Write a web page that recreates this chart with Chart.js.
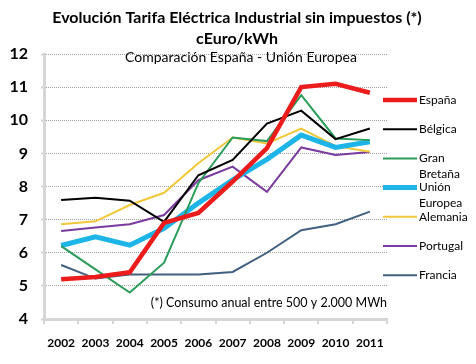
<!DOCTYPE html>
<html>
<head>
<meta charset="utf-8">
<script src="https://cdn.jsdelivr.net/npm/chart.js@4.4.0/dist/chart.umd.min.js"></script>
<style>
  body { margin: 0; background: #fff; }
  canvas { display: block; }
</style>
</head>
<body>
<canvas id="chart" width="476" height="364"></canvas>
<script>
const years = ['2002', '2003', '2004', '2005', '2006', '2007', '2008', '2009', '2010', '2011'];

const espana = [5.20, 5.27, 5.41, 6.90, 7.20, 8.15, 9.16, 11.0, 11.1, 10.83];
const belgica = [7.59, 7.66, 7.57, 6.93, 8.34, 8.80, 9.90, 10.29, 9.43, 9.75];
const granBretana = [6.20, 5.50, 4.80, 5.70, 8.10, 9.48, 9.37, 10.76, 9.45, 9.40];
const unionEuropea = [6.22, 6.48, 6.23, 6.74, 7.50, 8.20, 8.82, 9.55, 9.18, 9.35];
const alemania = [6.86, 6.95, 7.44, 7.81, 8.70, 9.48, 9.30, 9.75, 9.22, 9.05];
const portugal = [6.66, 6.76, 6.86, 7.14, 8.19, 8.60, 7.84, 9.18, 8.95, 9.04];
const francia = [5.63, 5.22, 5.34, 5.34, 5.34, 5.42, 6.00, 6.68, 6.86, 7.24];

const legendLines = [['España'], ['Bélgica'], ['Gran', 'Bretaña'], ['Unión', 'Europea'], ['Alemania'], ['Portugal'], ['Francia']];

const FONT = 'Lato, "Open Sans", sans-serif';

function series(label, data, color, width) {
  return {
    label: label,
    data: data,
    borderColor: color,
    backgroundColor: color,
    borderWidth: width,
    pointRadius: 0,
    tension: 0,
    fill: false
  };
}

// titles, footnote and right-hand legend
const decorations = {
  id: 'decorations',
  afterDraw(chart) {
    const ctx = chart.ctx;
    const area = chart.chartArea;
    ctx.save();
    ctx.fillStyle = '#000';
    ctx.textAlign = 'center';
    ctx.textBaseline = 'middle';
    ctx.font = 'bold 16px ' + FONT;
    ctx.fillText('Evolución Tarifa Eléctrica Industrial sin impuestos (*)', 237, 18);
    ctx.fillText('cEuro/kWh', 237, 39);
    ctx.font = '14px ' + FONT;
    ctx.fillText('Comparación España - Unión Europea', 241, 57);
    ctx.font = '12.5px ' + FONT;
    ctx.textAlign = 'right';
    ctx.fillText('(*) Consumo anual entre 500 y 2.000 MWh', area.right, 303);

    ctx.textAlign = 'left';
    ctx.font = '12px ' + FONT;
    chart.data.datasets.forEach((ds, i) => {
      const y = 100 + i * 29.2;
      ctx.strokeStyle = ds.borderColor;
      ctx.lineWidth = ds.borderWidth;
      ctx.beginPath();
      ctx.moveTo(383, y);
      ctx.lineTo(417, y);
      ctx.stroke();
      legendLines[i].forEach((txt, j) => {
        ctx.fillText(txt, 419, y + j * 15.5);
      });
    });
    ctx.restore();
  }
};

new Chart(document.getElementById('chart'), {
  type: 'line',
  data: {
    labels: years,
    datasets: [
      series('España', espana, '#ec1c1c', 4.5),
      series('Bélgica', belgica, '#000000', 2),
      series('Gran Bretaña', granBretana, '#2b9c5a', 2),
      series('Unión Europea', unionEuropea, '#1db5e8', 5),
      series('Alemania', alemania, '#f2c73a', 2),
      series('Portugal', portugal, '#7a3b9f', 2),
      series('Francia', francia, '#42607f', 2)
    ]
  },
  options: {
    responsive: false,
    animation: false,
    devicePixelRatio: 1,
    layout: { padding: { top: 54, right: 89, left: 0, bottom: 0 } },
    plugins: {
      legend: { display: false },
      title: { display: false },
      tooltip: { enabled: false }
    },
    scales: {
      x: {
        offset: true,
        afterFit(scale) { scale.height = 45; },
        grid: {
          offset: true,
          drawOnChartArea: false,
          tickLength: 5,
          color: '#d6d6d6',
          lineWidth: 2
        },
        border: { color: '#d6d6d6', width: 3 },
        ticks: {
          color: '#000',
          padding: 12,
          maxRotation: 0,
          font: { family: FONT, size: 12, weight: 'bold' }
        }
      },
      y: {
        min: 4,
        max: 12,
        afterFit(scale) { scale.width = 44; },
        grid: {
          drawTicks: true,
          tickLength: 3,
          tickColor: '#d6d6d6',
          tickWidth: 2,
          color: '#a0a0a0',
          lineWidth: 1
        },
        border: { color: '#d6d6d6', width: 3, dash: [1, 1] },
        ticks: {
          stepSize: 1,
          color: '#000',
          padding: 13,
          font: { family: FONT, size: 16, weight: 'bold' }
        }
      }
    }
  },
  plugins: [decorations]
});
</script>
</body>
</html>
